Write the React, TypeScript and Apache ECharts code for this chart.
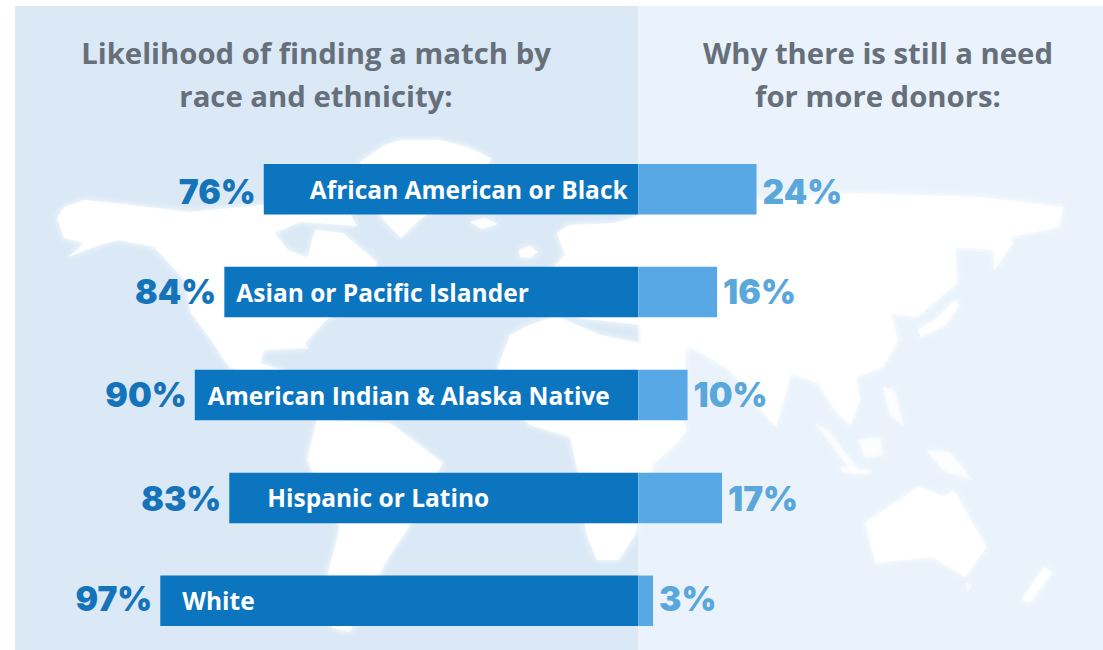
import React, { useEffect, useRef } from "react";
import * as echarts from "echarts";

const categories = [
  "African American or Black",
  "Asian or Pacific Islander",
  "American Indian & Alaska Native",
  "Hispanic or Latino",
  "White",
];
const matchPercent = [76, 84, 90, 83, 97];
const needPercent = [24, 16, 10, 17, 3];
const nameInsets = [46, 12, 13, 38, 22];
const numberNudge = [3, 0, 0, 1, -2];
const titleLeft = "Likelihood of finding a match by\nrace and ethnicity:";
const titleRight = "Why there is still a need\nfor more donors:";

const DARK = "#0b75bf";
const LIGHT = "#57a8e4";

const land: number[][][] = [
  [[57,218],[64,207],[85,200],[130,205],[190,212],[262,205],[350,214],[357,226],[300,222],[274,233],[288,250],[308,258],[312,240],[315,230],[343,233],[377,262],[370,290],[326,320],[305,343],[315,360],[308,348],[264,350],[260,363],[281,370],[300,385],[285,385],[229,367],[209,337],[191,313],[185,280],[154,247],[119,240],[99,245],[68,257],[85,243],[64,238]],
  [[360,162],[385,145],[401,140],[440,140],[467,147],[491,158],[480,180],[440,205],[419,220],[401,238],[384,220],[370,195]],
  [[470,222],[485,218],[498,224],[482,229]],
  [[519,250],[530,246],[538,252],[530,258],[520,257]],
  [[317,420],[390,423],[443,463],[430,485],[410,525],[387,560],[380,573],[365,600],[350,632],[332,628],[328,573],[340,527],[307,460]],
  [[498,367],[510,335],[530,325],[556,316],[577,325],[600,335],[650,345],[670,395],[687,430],[675,445],[654,463],[640,510],[636,533],[619,560],[597,560],[586,533],[582,490],[570,437],[530,425],[505,400]],
  [[535,300],[556,265],[565,255],[557,233],[569,225],[615,223],[640,215],[700,205],[844,193],[978,197],[1063,207],[1059,227],[1009,237],[1013,243],[994,270],[994,250],[955,247],[957,283],[917,317],[890,313],[898,340],[883,367],[856,377],[860,400],[850,425],[835,410],[818,383],[791,373],[776,427],[753,400],[730,370],[687,345],[684,375],[660,375],[642,345],[640,325],[580,318]],
  [[865,523],[919,487],[944,497],[954,490],[986,547],[965,577],[933,557],[876,563]],
  [[1022,600],[1044,567],[1052,573],[1029,603]],
  [[921,337],[945,325],[959,305],[955,300],[935,320],[918,330]],
];
const islands: number[][][] = [
  [[815,423],[830,432],[861,473],[850,470]],
  [[858,440],[880,437],[883,455],[865,458]],
  [[926,450],[950,452],[972,480],[945,472]],
  [[840,467],[872,470],[870,475],[842,472]],
  [[883,387],[895,390],[904,427],[890,415]],
  [[965,583],[972,585],[968,592]],
];

export default function App() {
  const ref = useRef<HTMLDivElement>(null);
  useEffect(() => {
    document.documentElement.style.overflow = "hidden";
    document.body.style.margin = "0";
    document.body.style.overflow = "hidden";
    document.body.style.background = "#fff";
    const chart = echarts.init(ref.current!, undefined, { renderer: "svg" });
    const titleStyle = {
      fontFamily: "Open Sans",
      fontWeight: 700,
      fontSize: 29.3,
      lineHeight: 43,
      color: "#666f7a",
    };
    const numberFont = { fontFamily: "Inter", fontWeight: 900, fontSize: 33.5 };
    const poly = (pts: number[][], opacity: number) => ({
      type: "polygon",
      silent: true,
      z: -1,
      shape: { points: pts },
      style: { fill: "#ffffff", opacity, shadowBlur: 6, shadowColor: "#ffffff" },
    });
    chart.setOption({
      animation: false,
      backgroundColor: "#ffffff",
      title: [
        { text: titleLeft, left: 311, top: 26, textAlign: "center", textStyle: titleStyle },
        { text: titleRight, left: 873, top: 26, textAlign: "center", textStyle: titleStyle },
      ],
      graphic: [
        { type: "rect", silent: true, z: -3, shape: { x: 15, y: 6, width: 623, height: 654 }, style: { fill: "#dbe9f6" } },
        { type: "rect", silent: true, z: -3, shape: { x: 638, y: 6, width: 465, height: 654 }, style: { fill: "#eaf3fb" } },
        ...land.map((p) => poly(p, 0.95)),
        ...islands.map((p) => poly(p, 0.6)),
      ],
      grid: { left: 145.5, width: 887, top: 137.75, height: 514.5 },
      xAxis: { type: "value", min: -100, max: 80, show: false },
      yAxis: { type: "category", inverse: true, data: categories, show: false },
      series: [
        {
          name: "Likelihood of finding a match",
          type: "bar",
          barWidth: 50.5,
          barGap: "-100%",
          itemStyle: { color: DARK },
          data: matchPercent.map((v, i) => ({
            value: -v,
            label: { offset: [0, numberNudge[i]] },
          })),
          label: {
            show: true,
            position: "left",
            distance: 8,
            formatter: (p: any) => `${Math.abs(p.value)}%`,
            color: "#1473b9",
            ...numberFont,
          },
        },
        {
          name: "Need for more donors",
          type: "bar",
          barWidth: 50.5,
          barGap: "-100%",
          itemStyle: { color: LIGHT },
          data: needPercent.map((v, i) => ({
            value: v,
            label: { offset: [0, numberNudge[i]] },
          })),
          label: {
            show: true,
            position: "right",
            distance: 6,
            formatter: "{c}%",
            color: "#5aa7dc",
            ...numberFont,
          },
        },
        {
          name: "Group",
          type: "bar",
          barWidth: 50.5,
          barGap: "-100%",
          itemStyle: { color: "transparent" },
          data: matchPercent.map((v, i) => ({
            value: -v,
            label: { distance: nameInsets[i] },
          })),
          label: {
            show: true,
            position: "insideLeft",
            formatter: (p: any) => p.name,
            color: "#ffffff",
            fontFamily: "Open Sans",
            fontWeight: 700,
            fontSize: 24.5,
          },
        },
      ],
    });
    return () => chart.dispose();
  }, []);
  return <div ref={ref} style={{ width: 1103, height: 660 }} />;
}
